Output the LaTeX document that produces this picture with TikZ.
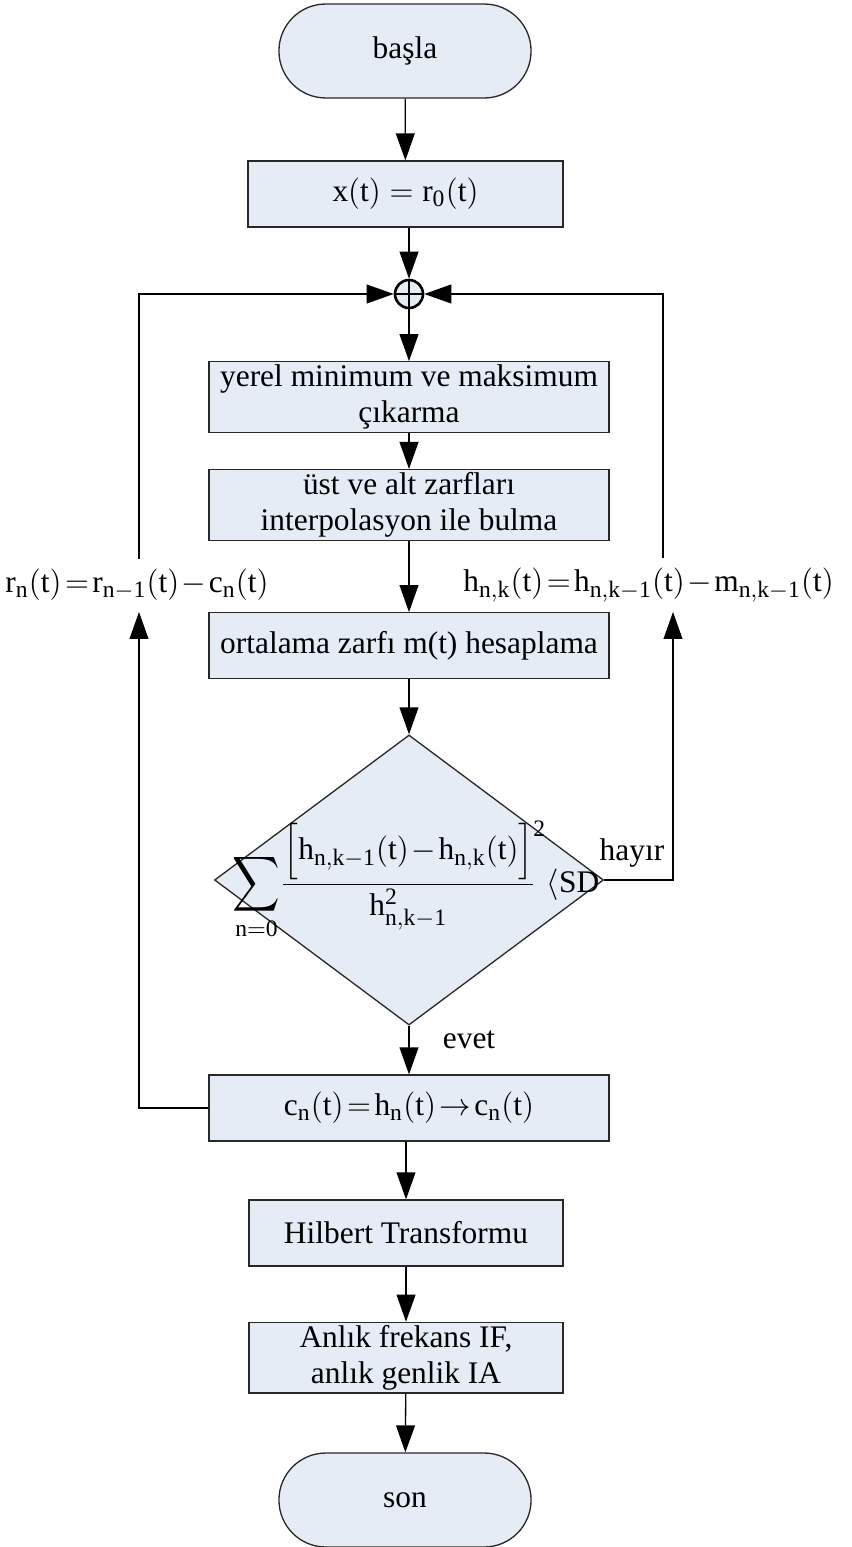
\documentclass[tikz,border=0pt]{standalone}
\usepackage{amsmath}
\usepackage{graphicx}
\usepackage{fontspec}
\setmainfont{Liberation Serif}
\DeclareMathSizes{12}{12}{9}{7}
\usepackage{tikz}
\usetikzlibrary{arrows.meta, positioning, calc, shapes.geometric}
\definecolor{boxfill}{RGB}{230,236,246}
\definecolor{edgegray}{RGB}{40,40,40}
\tikzset{
  bx/.style={draw=edgegray, fill=boxfill, minimum width=#1,
             minimum height=25.2pt, align=center, inner sep=1pt,
             line width=0.5pt},
  term/.style={draw=edgegray, fill=boxfill, rounded corners=17.9pt,
               minimum width=96.3pt, minimum height=35.9pt, inner sep=0pt,
               line width=0.5pt},
  decbox/.style={diamond, draw=edgegray, fill=boxfill, minimum width=148.6pt,
                 minimum height=110.8pt, inner sep=0pt, line width=0.5pt},
  sumc/.style={circle, draw=black, fill=boxfill, minimum size=10.7pt,
               inner sep=0pt, line width=1pt},
  tight/.style={execute at begin node={\thickmuskip=2mu\medmuskip=1.5mu}},
  arr/.style={-{Triangle[length=10.3pt, width=7.2pt]}, line width=0.5pt},
}
\newcommand{\bigsum}{\mathop{\vcenter{\hbox{\scalebox{1.05}[1.22]{$\displaystyle\sum$}}}}\limits}
\newcommand{\sqtwo}{\rlap{\raisebox{9pt}{\fontsize{9}{9}\selectfont 2}}}

\begin{document}
\begin{tikzpicture}[x=0.382pt, y=-0.382pt, font=\fontsize{12}{14}\selectfont]
  \useasboundingbox (0,0) rectangle (851,1547);
  % main column
  \node[term] (start) at (405,51) {başla};
  \node[bx=120.3pt] (init) at (405.5,194) {$\mathrm{x(t) = r_0(t)}$};
  \node[sumc] (sum) at (409,294) {};
  \node[bx=152.8pt] (ext) at (409,397) {yerel minimum ve maksimum\\çıkarma};
  \node[bx=152.8pt] (env) at (409,505) {üst ve alt zarfları\\interpolasyon ile bulma};
  \node[bx=152.8pt] (mean) at (409,645.7) {ortalama zarfı m(t) hesaplama};
  \node[decbox] (dec) at (409,880) {};
  \node[tight] (crit) at (416,880) {$\displaystyle\bigsum_{\mathrm{n=0}}\!
      \frac{\Bigl[\mathrm{h_{n,k-1}(t)-h_{n,k}(t)}\Bigr]\sqtwo}{\mathrm{h^{2}_{n,k-1}}}
      \hspace{4pt}\langle\mathrm{SD}$};
  \node[bx=152.8pt, tight] (imf) at (409,1108) {$\mathrm{c_n(t) = h_n(t)}\rightarrow\mathrm{c_n(t)}$};
  \node[bx=120pt] (hilb) at (406,1233) {Hilbert Transformu};
  \node[bx=120pt] (inst) at (406,1357.7) {Anlık frekans IF,\\anlık genlik IA};
  \node[term] (stop) at (405,1500) {son};
  % side labels
  \node[tight] (rlbl) at (137,585) {$\mathrm{r_n(t) = r_{n-1}(t) - c_n(t)}$};
  \node[tight, anchor=east] (hlbl) at (843,585) {$\mathrm{h_{n,k}(t) = h_{n,k-1}(t) - m_{n,k-1}(t)}$};
  \node (no) at (632,853) {hayır};
  \node (yes) at (469,1040) {evet};
  % connectors
  \draw[arr] (start) -- (init);
  \draw[arr] (init.south -| sum) -- (sum);
  \draw (sum.north) -- (sum.south) (sum.west) -- (sum.east);
  \draw[arr] (sum) -- (ext);
  \draw[arr] (ext) -- (env);
  \draw[arr] (env) -- (mean);
  \draw[arr] (mean) -- (dec);
  \draw[arr] (dec) -- (imf);
  \draw[arr] (imf.south -| hilb) -- (hilb);
  \draw[arr] (hilb) -- (inst);
  \draw[arr] (inst) -- (stop);
  % feedback loops
  \coordinate (ltop) at (139,559);
  \coordinate (ltip) at (139,612);
  \coordinate (rtop) at (663,558);
  \coordinate (rtip) at (673,612);
  \draw[arr] (imf.west) -| (ltip);
  \draw[arr] (ltop) |- (sum.west);
  \draw[arr] (dec.east) -| (rtip);
  \draw[arr] (rtop) |- (sum.east);
\end{tikzpicture}
\end{document}
